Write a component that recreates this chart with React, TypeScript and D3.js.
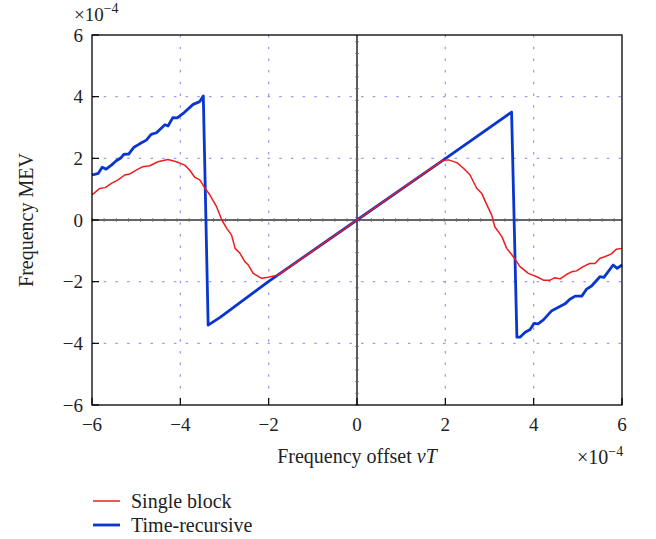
import React from "react";
import * as d3 from "d3";

// Frequency offset (×1e-4) and estimated MEV (×1e-4)
const singleX = [-6.0, -5.95, -5.83, -5.7, -5.56, -5.41, -5.26, -5.15, -5.0, -4.85, -4.69, -4.51, -4.28, -4.09, -3.9, -3.79, -3.67, -3.56, -3.45, -3.33, -3.18, -3.06, -2.95, -2.84, -2.76, -2.65, -2.54, -2.46, -2.35, -2.16, -2.01, -1.78, 0.0, 1.92, 2.07, 2.26, 2.41, 2.56, 2.71, 2.82, 2.94, 3.05, 3.12, 3.28, 3.39, 3.54, 3.69, 3.88, 4.07, 4.22, 4.37, 4.48, 4.6, 4.75, 4.86, 4.97, 5.12, 5.27, 5.39, 5.5, 5.61, 5.76, 5.87, 6.0];
const singleY = [0.82, 0.87, 1.02, 1.05, 1.19, 1.3, 1.46, 1.49, 1.62, 1.73, 1.76, 1.89, 1.96, 1.89, 1.78, 1.62, 1.38, 1.3, 1.05, 0.81, 0.43, 0.0, -0.27, -0.49, -0.92, -1.08, -1.35, -1.46, -1.73, -1.89, -1.86, -1.78, 0.0, 1.92, 1.95, 1.86, 1.68, 1.46, 1.03, 0.87, 0.49, 0.16, -0.22, -0.54, -0.92, -1.19, -1.51, -1.73, -1.84, -1.95, -1.95, -1.87, -1.91, -1.76, -1.68, -1.65, -1.51, -1.41, -1.41, -1.24, -1.19, -1.1, -0.95, -0.92];

const recursiveX = [-6.0, -5.94, -5.86, -5.77, -5.68, -5.56, -5.45, -5.35, -5.28, -5.17, -5.05, -4.92, -4.77, -4.66, -4.54, -4.35, -4.28, -4.17, -4.07, -3.9, -3.71, -3.56, -3.48, -3.37, -3.1, -2.84, -2.65, -2.0, 0.0, 2.0, 3.5, 3.62, 3.69, 3.8, 3.92, 4.01, 4.1, 4.22, 4.41, 4.56, 4.71, 4.82, 4.94, 5.09, 5.2, 5.31, 5.5, 5.59, 5.8, 5.89, 6.0];
const recursiveY = [1.47, 1.48, 1.51, 1.71, 1.65, 1.78, 1.92, 2.01, 2.13, 2.14, 2.36, 2.47, 2.59, 2.78, 2.83, 3.09, 3.05, 3.32, 3.31, 3.5, 3.75, 3.84, 4.02, -3.41, -3.16, -2.88, -2.68, -1.99, 0.0, 1.99, 3.5, -3.8, -3.8, -3.65, -3.55, -3.35, -3.37, -3.24, -2.94, -2.83, -2.72, -2.57, -2.47, -2.47, -2.24, -2.14, -1.84, -1.86, -1.46, -1.57, -1.46];

const xTicks = [-6, -4, -2, 0, 2, 4, 6];
const yTicks = [-6, -4, -2, 0, 2, 4, 6];
const gridValues = [-4, -2, 2, 4];

const W = 656;
const H = 539;
const left = 92;
const right = 622;
const top = 35;
const bottom = 405;
const FONT = "'Liberation Serif', 'DejaVu Serif', serif";
const BLUE = "#0a36d0";
const RED = "#ee1c1c";
const GRID = "#9a9cf2";
const INK = "#222";

export default function App() {
  const x = d3.scaleLinear().domain([-6, 6]).range([left, right]);
  const y = d3.scaleLinear().domain([-6, 6]).range([bottom, top]);

  const line = d3
    .line<[number, number]>()
    .x((d) => x(d[0]))
    .y((d) => y(d[1]));

  const singlePts = singleX.map((v, i) => [v, singleY[i]] as [number, number]);
  const recPts = recursiveX.map((v, i) => [v, recursiveY[i]] as [number, number]);

  const minorX = d3.range(-6, 6.001, 0.275);
  const minorY = d3.range(-6, 6.001, 0.38);

  const minus = (t: number) => (t < 0 ? `\u2212${Math.abs(t)}` : `${t}`);

  return (
    <svg
      width={W}
      height={H}
      style={{ position: "absolute", left: 0, top: 0, background: "#fff" }}
      fontFamily={FONT}
    >
      <rect x={0} y={0} width={W} height={H} fill="#fff" />

      {/* dotted grid */}
      {gridValues.map((g) => (
        <g key={`g${g}`}>
          <line x1={x(g)} x2={x(g)} y1={top} y2={bottom} stroke={GRID} strokeWidth={1.3} strokeDasharray="2.5 9.2" />
          <line x1={left} x2={right} y1={y(g)} y2={y(g)} stroke={GRID} strokeWidth={1.3} strokeDasharray="2.5 9.2" />
        </g>
      ))}

      {/* zero axes with small ticks */}
      <line x1={left} x2={right} y1={y(0)} y2={y(0)} stroke="#333" strokeWidth={1.6} />
      <line x1={x(0)} x2={x(0)} y1={top} y2={bottom} stroke="#333" strokeWidth={1.6} />
      {minorX.map((v) => (
        <line key={`mx${v}`} x1={x(v)} x2={x(v)} y1={y(0) - 1.8} y2={y(0) + 1.8} stroke="#666" strokeWidth={0.9} />
      ))}
      {minorY.map((v) => (
        <line key={`my${v}`} x1={x(0) - 1.8} x2={x(0) + 1.8} y1={y(v)} y2={y(v)} stroke="#666" strokeWidth={0.9} />
      ))}

      {/* series */}
      <path d={line(recPts) ?? ""} fill="none" stroke={BLUE} strokeWidth={2.8} strokeLinejoin="round" />
      <path d={line(singlePts) ?? ""} fill="none" stroke={RED} strokeWidth={1.5} strokeLinejoin="round" />

      {/* frame */}
      <rect x={left} y={top} width={right - left} height={bottom - top} fill="none" stroke="#000" strokeWidth={1.3} />

      {/* ticks */}
      {xTicks.map((t) => (
        <g key={`xt${t}`}>
          <line x1={x(t)} x2={x(t)} y1={bottom} y2={bottom - 7} stroke="#000" strokeWidth={1.2} />
          <text x={x(t)} y={431} textAnchor="middle" fontSize={19} fill={INK}>
            {minus(t)}
          </text>
        </g>
      ))}
      {yTicks.map((t) => (
        <g key={`yt${t}`}>
          <line x1={left} x2={left + 7} y1={y(t)} y2={y(t)} stroke="#000" strokeWidth={1.2} />
          <text x={83} y={y(t) + 6.5} textAnchor="end" fontSize={19} fill={INK}>
            {minus(t)}
          </text>
        </g>
      ))}

      {/* exponent labels */}
      <text x={74} y={21} fontSize={19} fill={INK}>
        {"\u00d710"}
        <tspan fontSize={14} dy={-8}>{"\u22124"}</tspan>
      </text>
      <text x={577} y={464} fontSize={20} fill={INK}>
        {"\u00d710"}
        <tspan fontSize={14} dy={-8}>{"\u22124"}</tspan>
      </text>

      {/* axis titles */}
      <text x={357} y={463} textAnchor="middle" fontSize={20} fill={INK}>
        {"Frequency offset "}
        <tspan fontStyle="italic">{"\u03bdT"}</tspan>
      </text>
      <text transform={`translate(33, ${y(0)}) rotate(-90)`} textAnchor="middle" fontSize={20} fill={INK}>
        Frequency MEV
      </text>

      {/* legend */}
      <line x1={93} x2={120} y1={501} y2={501} stroke={RED} strokeWidth={1.5} />
      <text x={131} y={508} fontSize={20} fill={INK}>Single block</text>
      <line x1={93} x2={120} y1={525} y2={525} stroke={BLUE} strokeWidth={2.8} />
      <text x={131} y={532} fontSize={20} fill={INK}>Time-recursive</text>
    </svg>
  );
}
